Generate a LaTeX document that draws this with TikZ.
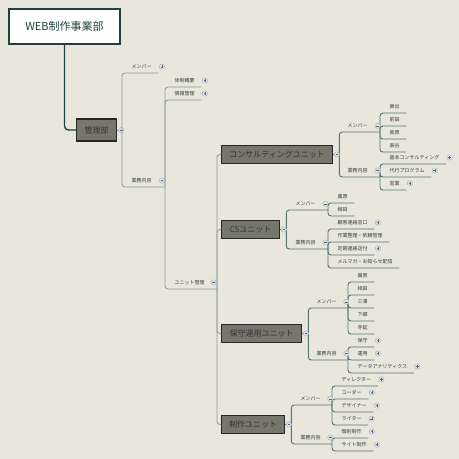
\documentclass[tikz,border=0pt]{standalone}
\usepackage{fontspec}
\setmainfont{Noto Sans CJK JP}
\definecolor{bgc}{HTML}{E9E7DC}
\definecolor{trunkc}{HTML}{1F423E}
\definecolor{boxc}{HTML}{77766B}
\definecolor{linea}{HTML}{8CA099}
\definecolor{lineb}{HTML}{56736C}
\definecolor{textc}{HTML}{33403B}
\definecolor{knobf}{HTML}{DCE2E9}
\definecolor{knobd}{HTML}{A3AEBB}
\tikzset{
  unitbox/.style={draw=black!85, line width=1.3pt, fill=boxc, text=black!80,
    font=\fontsize{8}{9}\selectfont, minimum height=18pt, inner xsep=0pt, anchor=west},
  topic/.style={anchor=south west, inner xsep=6.5pt, inner ysep=4pt, text=textc,
    font=\fontsize{5}{6}\selectfont},
  br/.style={line width=0.9pt, rounded corners=3pt},
  knob/.style={circle, draw=knobd, fill=knobf, line width=0.4pt, minimum size=5.4pt, inner sep=0pt},
  plusknob/.style={knob, path picture={
    \draw[knobd!60!black, line width=0.3pt]
      ([xshift=-1.3pt]path picture bounding box.center) -- ([xshift=1.3pt]path picture bounding box.center)
      ([yshift=-1.3pt]path picture bounding box.center) -- ([yshift=1.3pt]path picture bounding box.center);}},
  minusknob/.style={knob, path picture={
    \draw[knobd!60!black, line width=0.3pt]
      ([xshift=-1.3pt]path picture bounding box.center) -- ([xshift=1.3pt]path picture bounding box.center);}}
}
\begin{document}
\begin{tikzpicture}[x=1pt, y=-1pt]
  \fill[bgc] (0,0) rectangle (459,459);
  \useasboundingbox (0,0) rectangle (459,459);

  \node[draw=trunkc, line width=2pt, fill=white, minimum width=111pt, minimum height=35pt,
    text=trunkc, font=\fontsize{11}{12}\selectfont] (root) at (64.5,26.5) {WEB制作事業部};
  \node[unitbox, minimum width=40pt, minimum height=22pt] (kanri) at (76,130) {管理部};
  \draw[trunkc, line width=1.3pt, rounded corners=4pt] (root.south) |- (kanri.west);

  % 管理部
  \coordinate (kj) at (122,130);
  \draw[br, linea] (kanri.east) -- (kj);
  \node[minusknob] (kanrio) at ([xshift=4pt]kanri.east) {};
  \node[topic] (kmem) at (125,73) {メンバー};
  \draw[br, linea] (kj) |- (kmem.south east);
  \node[plusknob] (kmemo) at ([xshift=3.5pt]kmem.east) {};
  \node[topic] (kgyo) at (125,187) {業務内容};
  \coordinate (kgj) at (165,187);
  \draw[br, linea] (kj) |- (kgj);
  \node[minusknob] (kgyoo) at ([xshift=3.5pt]kgyo.east) {};
  \foreach \n/\y/\t in {1/87/体制概要, 2/100/情報管理} {
    \node[topic] (kg\n) at (168,\y) {\t};
    \draw[br, linea] (kgj) |- (kg\n.south east);
    \node[plusknob] (kgo\n) at ([xshift=3.5pt]kg\n.east) {};
  }
  \node[topic] (kunit) at (168,289) {ユニット管理};
  \coordinate (uj) at (217,289);
  \draw[br, linea] (kgj) |- (uj);
  \node[minusknob] (kunito) at ([xshift=2pt]kunit.east) {};

  % units
  \foreach \n/\y/\w/\t in {1/154.5/111pt/コンサルティングユニット, 2/229.5/58pt/CSユニット,
      3/333.5/80pt/保守運用ユニット, 4/424.5/63pt/制作ユニット} {
    \node[unitbox, minimum width=\w] (u\n) at (221,\y) {\t};
    \draw[br, linea] (uj) |- (u\n.west);
    \coordinate (uj\n) at ([xshift=6pt]u\n.east);
    \draw[br, lineb] (u\n.east) -- (uj\n);
  }

  % コンサルティングユニット
  \node[topic] (c1m) at (341,132) {メンバー};
  \coordinate (c1mj) at (380,132);
  \draw[br, lineb] (uj1) |- (c1mj);
  \foreach \n/\y/\t in {1/113/東出, 2/126/前田, 3/139/奥原, 4/152/辰谷} {
    \node[topic] (c1m\n) at (383,\y) {\t};
    \draw[br, lineb] (c1mj) |- (c1m\n.south east);
  }
  \node[topic] (c1g) at (341,177) {業務内容};
  \coordinate (c1gj) at (380,177);
  \draw[br, lineb] (uj1) |- (c1gj);
  \foreach \n/\y/\t in {1/164/基本コンサルティング, 2/177/代行プログラム, 3/190/営業} {
    \node[topic] (c1g\n) at (383,\y) {\t};
    \draw[br, lineb] (c1gj) |- (c1g\n.south east);
    \node[plusknob] (c1go\n) at ([xshift=3.5pt]c1g\n.east) {};
  }
  \node[minusknob] (c1mo) at ([xshift=3pt]c1m.east) {};
  \node[minusknob] (c1go) at ([xshift=3pt]c1g.east) {};

  % CSユニット
  \node[topic] (c2m) at (289,210) {メンバー};
  \coordinate (c2mj) at (328,210);
  \draw[br, lineb] (uj2) |- (c2mj);
  \foreach \n/\y/\t in {1/203/廣原, 2/216/相田} {
    \node[topic] (c2m\n) at (331,\y) {\t};
    \draw[br, lineb] (c2mj) |- (c2m\n.south east);
  }
  \node[topic] (c2g) at (289,249) {業務内容};
  \coordinate (c2gj) at (328,249);
  \draw[br, lineb] (uj2) |- (c2gj);
  \foreach \n/\y/\t in {1/229/顧客連絡窓口, 2/242/作業整理・依頼管理, 3/255/定期連絡送付, 4/268/メルマガ・お知らせ配信} {
    \node[topic] (c2g\n) at (331,\y) {\t};
    \draw[br, lineb] (c2gj) |- (c2g\n.south east);
  }
  \node[plusknob] (c2go1) at ([xshift=3.5pt]c2g1.east) {};
  \node[plusknob] (c2go3) at ([xshift=3.5pt]c2g3.east) {};
  \node[minusknob] (c2mo) at ([xshift=3pt]c2m.east) {};
  \node[minusknob] (c2go) at ([xshift=3pt]c2g.east) {};

  % 保守運用ユニット
  \node[topic] (c3m) at (310,308) {メンバー};
  \coordinate (c3mj) at (348,308);
  \draw[br, lineb] (uj3) |- (c3mj);
  \foreach \n/\y/\t in {1/282/廣原, 2/295/相田, 3/308/三澤, 4/321/下郷, 5/334/寺延} {
    \node[topic] (c3m\n) at (351,\y) {\t};
    \draw[br, lineb] (c3mj) |- (c3m\n.south east);
  }
  \node[topic] (c3g) at (310,360) {業務内容};
  \coordinate (c3gj) at (348,360);
  \draw[br, lineb] (uj3) |- (c3gj);
  \foreach \n/\y/\t in {1/347/保守, 2/360/運用, 3/373/データアナリティクス} {
    \node[topic] (c3g\n) at (351,\y) {\t};
    \draw[br, lineb] (c3gj) |- (c3g\n.south east);
    \node[plusknob] (c3go\n) at ([xshift=3.5pt]c3g\n.east) {};
  }
  \node[minusknob] (c3mo) at ([xshift=3pt]c3m.east) {};
  \node[minusknob] (c3go) at ([xshift=3pt]c3g.east) {};

  % 制作ユニット
  \node[topic] (c4m) at (294,405) {メンバー};
  \coordinate (c4mj) at (332,405);
  \draw[br, lineb] (uj4) |- (c4mj);
  \foreach \n/\y/\t in {1/386/ディレクター, 2/399/コーダー, 3/412/デザイナー, 4/425/ライター} {
    \node[topic] (c4m\n) at (335,\y) {\t};
    \draw[br, lineb] (c4mj) |- (c4m\n.south east);
    \node[plusknob] (c4mo\n) at ([xshift=3.5pt]c4m\n.east) {};
  }
  \node[topic] (c4g) at (294,444) {業務内容};
  \coordinate (c4gj) at (332,444);
  \draw[br, lineb] (uj4) |- (c4gj);
  \foreach \n/\y/\t in {1/438/個別制作, 2/451/サイト制作} {
    \node[topic] (c4g\n) at (335,\y) {\t};
    \draw[br, lineb] (c4gj) |- (c4g\n.south east);
    \node[plusknob] (c4go\n) at ([xshift=3.5pt]c4g\n.east) {};
  }
  \node[minusknob] (c4mo) at ([xshift=3pt]c4m.east) {};
  \node[minusknob] (c4go) at ([xshift=3pt]c4g.east) {};

  \foreach \n in {1,...,4} {
    \node[minusknob] (uo\n) at ([xshift=3.5pt]u\n.east) {};
  }
\end{tikzpicture}
\end{document}
